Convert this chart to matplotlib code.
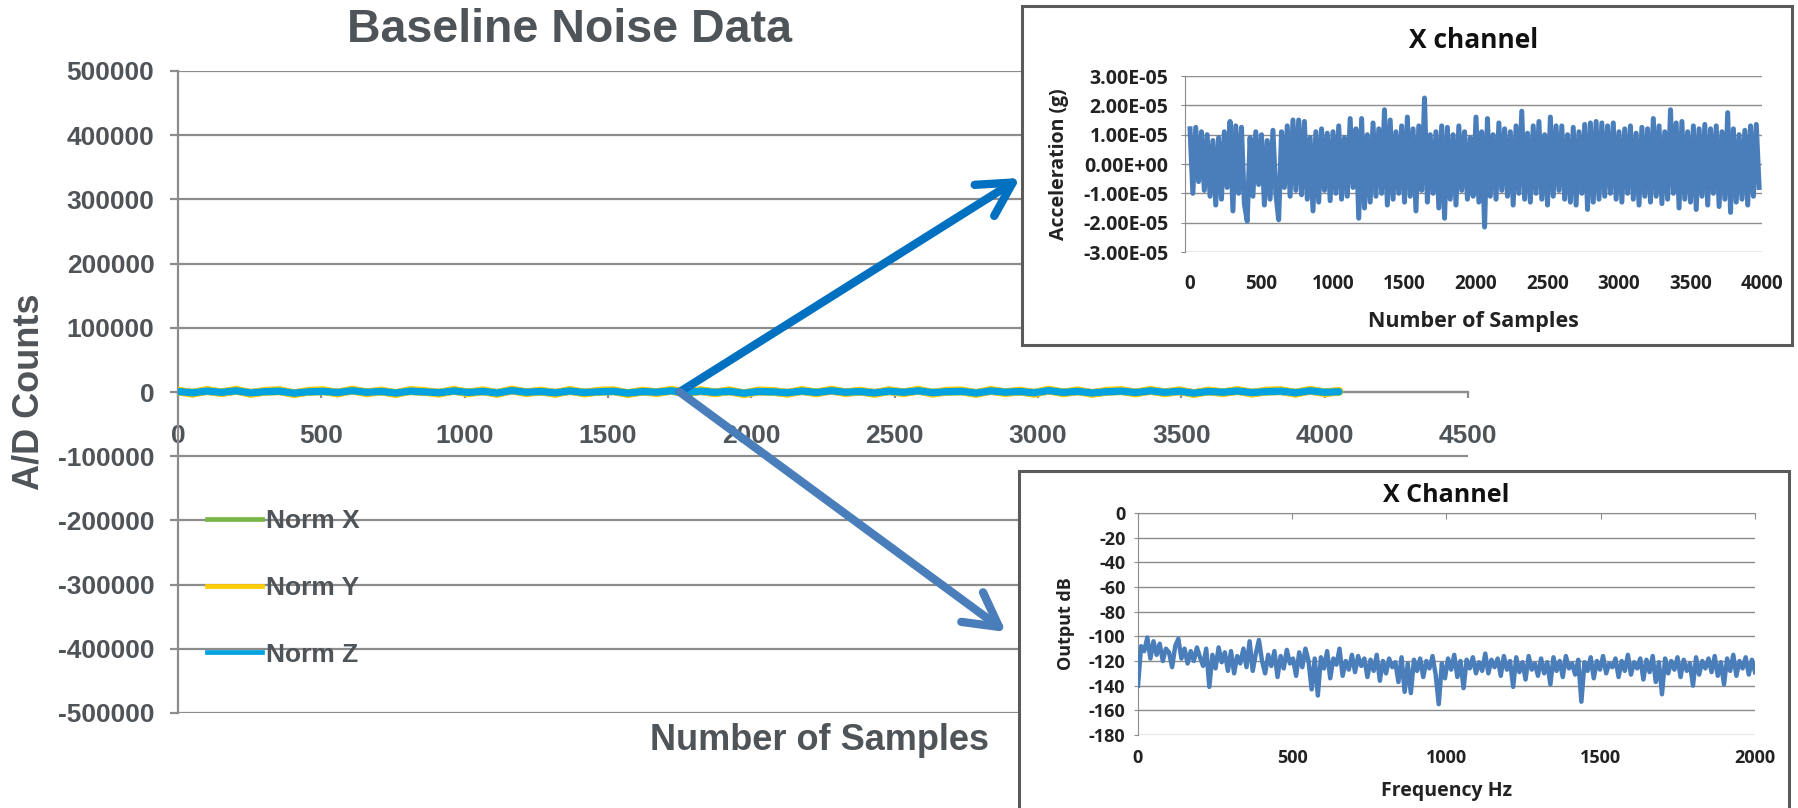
import numpy as np
import matplotlib
matplotlib.use("Agg")
import matplotlib.pyplot as plt
from matplotlib.lines import Line2D
from matplotlib.patches import Rectangle, ConnectionPatch

# ---- main chart: baseline noise (A/D counts), sampled along the record ----
LAST_SAMPLE = 4050
NORM_X = [900, -1300, 1600, -700, 2100, -1500, 500, 1400, -2000, 600, 1200, -1000,
          2300, -600, 1000, -1800, 1500, 300, -1200, 1900, -800, 1100, -1600, 2500,
          -500, 900, -1400, 1700, -1000, 600, 1300, -1900, 800, -400, 2000, -1100,
          1500, -700, 1200, -2100, 1000, 400, -1300, 1600, -900, 2200, -500, 800,
          -1500, 1400, -600, 2100, -1200, 700, 1100, -1700, 1800, -400, 900, -1400,
          2400, -800, 1200, -1600, 600, 1500, -1000, 1900, -700, 1300, -1800, 1000,
          -500, 1700, -1100, 800, 1400, -1300, 2000, -600, 500]
NORM_Y = [1500, -2200, 2600, -1400, 3100, -2400, 1200, 2300, -2900, 1300, 2200, -1900,
          3300, -1500, 1800, -2700, 2500, 900, -2100, 2900, -1600, 2000, -2500, 3400,
          -1300, 1700, -2300, 2700, -1800, 1400, 2300, -2800, 1600, -1200, 3000, -2000,
          2400, -1500, 2100, -3000, 1800, 1100, -2200, 2600, -1700, 3200, -1300, 1600,
          -2400, 2300, -1400, 3100, -2100, 1500, 1900, -2600, 2800, -1200, 1700, -2300,
          3300, -1600, 2100, -2500, 1400, 2400, -1800, 2900, -1500, 2200, -2700, 1900,
          -1300, 2600, -2000, 1600, 2300, -2200, 3000, -1400, 1200]
NORM_Z = [800, -1200, 1500, -600, 1900, -1400, 600, 1300, -1800, 400, 1100, -900,
          2100, -500, 900, -1600, 1400, 200, -1100, 1700, -700, 1000, -1500, 2300,
          -400, 800, -1300, 1600, -900, 500, 1200, -1700, 700, -300, 1800, -1000,
          1400, -600, 1100, -1900, 900, 300, -1200, 1500, -800, 2000, -400, 700,
          -1400, 1300, -500, 1900, -1100, 600, 1000, -1600, 1700, -300, 800, -1300,
          2200, -700, 1100, -1500, 500, 1400, -900, 1800, -600, 1200, -1700, 900,
          -400, 1600, -1000, 700, 1300, -1200, 1900, -500, 400]
SERIES_NAMES = ["Norm X", "Norm Y", "Norm Z"]
MAIN_YTICKS = [-500000, -400000, -300000, -200000, -100000, 0,
               100000, 200000, 300000, 400000, 500000]
MAIN_XTICKS = [0, 500, 1000, 1500, 2000, 2500, 3000, 3500, 4000, 4500]
ZOOM_SAMPLE = 1750

# ---- inset 1: X channel acceleration, units of 1e-5 g ----
ACCEL_LAST = 3980
ACCEL_X_E5 = [
    1.2, -1.0, 1.25, -0.6, 1.1, -0.9, 1.0, -1.1, 0.8, -1.4,
    0.9, -1.2, 1.1, -0.8, 1.45, -1.6, 1.3, -1.0, 1.25, -1.35,
    -1.95, 0.9, -1.1, 1.1, -0.7, 1.0, -1.4, 0.8, -1.2, 1.15,
    -1.0, -1.9, 1.1, -0.8, 1.3, -1.1, 1.5, -0.9, 1.5, -1.05,
    1.45, -1.2, 0.9, -1.6, 1.1, -1.3, 1.2, -0.9, 1.05, -1.25,
    1.1, -1.0, 1.3, -1.2, 0.9, -1.1, 1.55, -0.8, 1.2, -1.85,
    1.55, -1.5, 1.0, -1.3, 1.4, -1.1, 1.2, -1.0, 1.85, -1.4,
    1.5, -1.2, 1.1, -1.0, 1.3, -1.3, 1.6, -1.1, 1.2, -1.6,
    1.3, -0.9, 2.25, -1.3, 1.0, -1.0, 1.1, -1.5, 1.3, -1.85,
    1.25, -1.2, 1.0, -1.4, 1.3, -0.9, 1.1, -1.2, 0.9, -1.1,
    1.6, -1.3, 1.1, -2.15, 1.55, -1.1, 1.0, -1.2, 1.4, -0.9,
    1.2, -1.1, 1.1, -1.4, 1.3, -1.0, 1.8, -1.2, 1.05, -1.3,
    1.3, -1.0, 1.45, -1.2, 1.0, -1.4, 1.6, -1.1, 1.3, -0.9,
    1.3, -1.2, 1.0, -1.3, 1.25, -1.4, 1.1, -1.0, 1.35, -1.55,
    1.4, -1.3, 1.45, -1.2, 1.4, -1.1, 1.3, -1.0, 1.4, -1.2,
    1.1, -1.3, 1.2, -1.0, 1.3, -1.2, 1.05, -1.4, 1.25, -1.1,
    1.2, -1.3, 1.55, -1.1, 1.3, -1.35, 1.1, -1.2, 1.85, -1.0,
    1.4, -1.5, 1.45, -1.2, 1.1, -1.3, 1.3, -1.55, 1.2, -1.1,
    1.35, -1.4, 1.2, -1.0, 1.3, -1.45, 1.1, -1.2, 1.75, -1.65,
    1.2, -1.3, 1.0, -1.2, 1.15, -1.4, 1.3, -1.1, 1.35, -0.8,
]
ACCEL_YTICKS_E5 = [-3, -2, -1, 0, 1, 2, 3]
ACCEL_YLABELS = ["-3.00E-05", "-2.00E-05", "-1.00E-05", "0.00E+00",
                 "1.00E-05", "2.00E-05", "3.00E-05"]
ACCEL_XTICKS = [0, 500, 1000, 1500, 2000, 2500, 3000, 3500, 4000]

# ---- inset 2: X channel spectrum (dB) ----
FREQ_LAST = 2000
OUTPUT_DB = [
    -140, -108, -112, -101, -118, -104, -115, -106, -120, -110,
    -113, -125, -108, -102, -118, -110, -122, -112, -120, -109,
    -117, -124, -110, -141, -115, -126, -109, -121, -113, -128,
    -112, -130, -116, -122, -110, -125, -104, -128, -114, -103,
    -120, -130, -115, -124, -112, -133, -116, -126, -111, -122,
    -118, -132, -113, -125, -110, -120, -143, -118, -148, -117,
    -126, -112, -134, -118, -123, -110, -132, -120, -127, -115,
    -129, -116, -124, -118, -133, -119, -128, -115, -136, -120,
    -130, -118, -125, -121, -137, -117, -145, -122, -146, -119,
    -128, -118, -133, -120, -126, -116, -131, -155, -122, -134,
    -118, -127, -115, -133, -120, -142, -119, -126, -117, -130,
    -121, -128, -114, -130, -119, -125, -118, -132, -116, -127,
    -120, -141, -117, -129, -121, -135, -116, -127, -122, -132,
    -118, -130, -121, -139, -117, -128, -120, -133, -116, -126,
    -122, -131, -119, -153, -121, -128, -117, -134, -120, -127,
    -116, -130, -122, -125, -118, -133, -120, -128, -115, -131,
    -121, -126, -118, -135, -119, -129, -116, -137, -121, -147,
    -118, -130, -120, -127, -117, -133, -119, -128, -122, -140,
    -117, -131, -120, -126, -118, -129, -116, -132, -121, -139,
    -118, -128, -115, -132, -120, -126, -117, -131, -119, -129,
]
DB_YTICKS = [-180, -160, -140, -120, -100, -80, -60, -40, -20, 0]
FREQ_XTICKS = [0, 500, 1000, 1500, 2000]

W, H = 1799, 808
GRAY_TXT = "#4f5459"
GRID = "#8c8c8c"
MAIN_FONT = ["Liberation Sans", "DejaVu Sans"]
INSET_FONT = ["Open Sans", "DejaVu Sans"]
LINE_COLORS = ["#7ab648", "#ffcc00", "#00a3e0"]
LINE_WIDTHS = [5.9, 6.3, 5.2]
INSET_BLUE = "#4a7ebb"


def fx(px):
    return px / W


def fy(py):
    return 1 - py / H


fig = plt.figure(figsize=(W / 100, H / 100), dpi=100)

# ---------------- main chart ----------------
ax = fig.add_axes([fx(178), fy(713), fx(1468 - 178), (713 - 71) / H])
for vals, color, lw in zip([NORM_X, NORM_Y, NORM_Z], LINE_COLORS, LINE_WIDTHS):
    xs = np.linspace(0, LAST_SAMPLE, len(vals))
    ax.plot(xs, vals, color=color, lw=lw, solid_capstyle="round", zorder=3)

ax.set_xlim(0, 4500)
ax.set_ylim(-500000, 500000)
ax.set_yticks(MAIN_YTICKS)
ax.set_yticklabels([str(v) for v in MAIN_YTICKS])
ax.set_xticks(MAIN_XTICKS)
ax.set_xticklabels([str(v) for v in MAIN_XTICKS])
ax.yaxis.grid(True, color=GRID, lw=1.6)
ax.set_axisbelow(True)
for s in ["top", "right"]:
    ax.spines[s].set_visible(False)
ax.spines["bottom"].set_position(("data", 0))
ax.spines["bottom"].set_color(GRID)
ax.spines["bottom"].set_linewidth(1.6)
ax.spines["left"].set_color(GRID)
ax.spines["left"].set_linewidth(1.6)
ax.tick_params(axis="y", length=6, width=1.6, color=GRID, pad=11)
ax.tick_params(axis="x", length=4, width=1.6, color=GRID, pad=19)
for lab in ax.get_xticklabels() + ax.get_yticklabels():
    lab.set_fontfamily(MAIN_FONT)
    lab.set_fontweight("bold")
    lab.set_fontsize(19)
    lab.set_color(GRAY_TXT)

handles = [Line2D([], [], color=c, lw=3.4) for c in LINE_COLORS]
leg = ax.legend(handles, SERIES_NAMES, loc="upper left",
                bbox_to_anchor=(fx(207), fy(509)), bbox_transform=fig.transFigure,
                frameon=False, borderpad=0, borderaxespad=0, handlelength=2.1,
                handletextpad=0.12, labelspacing=1.62,
                prop={"family": MAIN_FONT, "weight": "bold", "size": 19})
for t in leg.get_texts():
    t.set_color(GRAY_TXT)

fig.text(fx(570), fy(30), "Baseline Noise Data", ha="center", va="center",
         fontsize=33.5, fontweight="bold", color=GRAY_TXT, family=MAIN_FONT)
fig.text(fx(820), fy(740), "Number of Samples", ha="center", va="center",
         fontsize=26, fontweight="bold", color=GRAY_TXT, family=MAIN_FONT)
fig.text(fx(29), fy(392), "A/D Counts", ha="center", va="center", rotation=90,
         fontsize=26, fontweight="bold", color=GRAY_TXT, family=MAIN_FONT)

# ---------------- inset frames ----------------
for (x0, y0, x1, y1) in [(1022, 6, 1792, 345), (1019, 471, 1789, 812)]:
    fig.add_artist(Rectangle((fx(x0), fy(y1)), fx(x1 - x0), (y1 - y0) / H,
                             transform=fig.transFigure, facecolor="white",
                             edgecolor="#5a5a5a", lw=2.2, zorder=1))


def style_inset(a):
    a.set_zorder(2)
    a.set_facecolor("none")
    for s in ["top", "right", "bottom"]:
        a.spines[s].set_visible(False)
    a.spines["left"].set_color(GRID)
    a.yaxis.grid(True, color=GRID, lw=1.0)
    a.set_axisbelow(True)
    for lab in a.get_xticklabels() + a.get_yticklabels():
        lab.set_fontfamily(INSET_FONT)
        lab.set_fontweight("bold")
        lab.set_color("#222222")


# inset 1: time series
ax1 = fig.add_axes([fx(1185), fy(252), fx(1762 - 1185), (252 - 76) / H])
xs1 = np.linspace(0, ACCEL_LAST, len(ACCEL_X_E5))
ax1.plot(xs1, np.array(ACCEL_X_E5) * 1e-5, color=INSET_BLUE, lw=3.6, zorder=3)
ax1.set_xlim(-35, 4000)
ax1.set_ylim(-3e-5, 3e-5)
ax1.set_yticks([v * 1e-5 for v in ACCEL_YTICKS_E5])
ax1.set_yticklabels(ACCEL_YLABELS)
ax1.set_xticks(ACCEL_XTICKS)
ax1.set_xticklabels([str(v) for v in ACCEL_XTICKS])
ax1.tick_params(axis="y", length=3, color=GRID, pad=9, labelsize=14)
ax1.tick_params(axis="x", length=0, pad=16, labelsize=13.5)
style_inset(ax1)
ax1.set_title("X channel", fontsize=19, fontweight="bold", family=INSET_FONT,
              color="#111111", pad=20)
ax1.set_xlabel("Number of Samples", fontsize=15.5, fontweight="bold",
               family=INSET_FONT, color="#222222", labelpad=12)
ax1.set_ylabel("Acceleration (g)", fontsize=14, fontweight="bold",
               family=INSET_FONT, color="#222222", labelpad=10)

# inset 2: spectrum
ax2 = fig.add_axes([fx(1138), fy(735), fx(1755 - 1138), (735 - 513) / H])
xs2 = np.linspace(0, FREQ_LAST, len(OUTPUT_DB))
ax2.plot(xs2, OUTPUT_DB, color=INSET_BLUE, lw=3.2, zorder=3)
ax2.set_xlim(0, 2000)
ax2.set_ylim(-180, 0)
ax2.set_yticks(DB_YTICKS)
ax2.set_yticklabels([str(v) for v in DB_YTICKS])
ax2.set_xticks(FREQ_XTICKS)
ax2.set_xticklabels([str(v) for v in FREQ_XTICKS])
style_inset(ax2)
ax2.spines["top"].set_visible(True)
ax2.spines["top"].set_color(GRID)
ax2.tick_params(axis="y", length=3, color=GRID, pad=6, labelsize=13)
ax2.tick_params(axis="x", top=True, bottom=False, direction="in", length=4,
                color=GRID, pad=10, labelsize=13)
ax2.set_title("X Channel", fontsize=18, fontweight="bold", family=INSET_FONT,
              color="#111111", pad=8)
ax2.set_xlabel("Frequency Hz", fontsize=14, fontweight="bold",
               family=INSET_FONT, color="#222222", labelpad=10)
ax2.set_ylabel("Output dB", fontsize=13, fontweight="bold",
               family=INSET_FONT, color="#222222", labelpad=10)

# ---------------- zoom arrows ----------------
for target, color in [((1020, 178), "#0070c0"), ((1006, 632), "#4a7ebb")]:
    arr = ConnectionPatch(xyA=(ZOOM_SAMPLE, 0), coordsA=ax.transData,
                          xyB=(fx(target[0]), fy(target[1])), coordsB=fig.transFigure,
                          arrowstyle="->,head_length=2.0,head_width=1.1",
                          mutation_scale=12, color=color, lw=6,
                          capstyle="round", joinstyle="round")
    arr.set_zorder(5)
    fig.add_artist(arr)

fig.savefig("out.png", dpi=100)
